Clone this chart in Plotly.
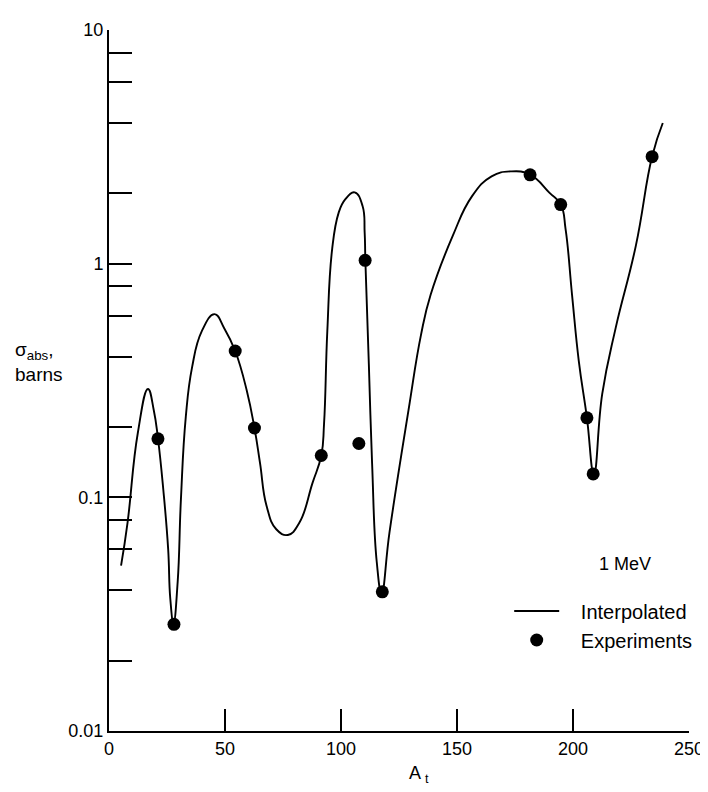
import plotly.graph_objects as go

# Interpolated curve (A_t, sigma_abs in barns)
interp_A = [5.2, 8.0, 12.4, 16.8, 19.3, 21.1, 23.4, 25.5, 26.4, 27.8, 29.6, 31.0, 33.1, 35.8,
            40.0, 45.5, 49.6, 54.4, 59.4, 62.7, 65.1, 67.9, 72.1, 77.1, 82.1, 87.7, 91.5,
            92.7, 94.1, 96.2, 99.0, 101.8, 105.9, 109.3, 110.2, 110.5, 112.0, 113.4, 115.4,
            117.5, 120.9, 129.1, 134.5, 138.6, 148.2, 156.5, 164.9, 173.2, 181.5,
            189.9, 194.7, 196.8, 199.6, 202.5, 206.0, 209.0, 212.6, 218.4, 227.1, 234.1, 238.7]
interp_sigma = [0.051, 0.078, 0.188, 0.291, 0.236, 0.179, 0.108, 0.060, 0.037, 0.029, 0.0435,
                0.098, 0.221, 0.36, 0.514, 0.608, 0.531, 0.423, 0.286, 0.198, 0.140, 0.092,
                0.073, 0.069, 0.078, 0.115, 0.151, 0.207, 0.514, 1.157, 1.654, 1.884, 2.02,
                1.765, 1.36, 1.04, 0.372, 0.140, 0.053, 0.039, 0.0708, 0.236, 0.497,
                0.734, 1.318, 1.945, 2.364, 2.483, 2.404, 2.01, 1.794, 1.406, 0.734, 0.383,
                0.219, 0.126, 0.277, 0.531, 1.195, 2.873, 4.0]

# Experimental points
exp_A = [21.1, 28.0, 54.4, 62.7, 91.5, 107.7, 110.4, 117.8, 181.5, 194.7, 206.0, 208.7, 234.1]
exp_sigma = [0.178, 0.0286, 0.423, 0.198, 0.151, 0.170, 1.033, 0.0394, 2.40, 1.79, 0.219, 0.126, 2.87]

# Axis ticks
x_tickvals = [0, 50, 100, 150, 200, 250]
x_ticktext = ["0", "50", "100", "150", "200", "250"]
y_tickvals = [0.01, 0.02, 0.04, 0.06, 0.08, 0.1, 0.2, 0.4, 0.6, 0.8, 1, 2, 4, 6, 8, 10]
y_ticktext = ["0.01", "", "", "", "", "0.1", "", "", "", "", "1", "", "", "", "", "10"]

FONT = "Liberation Sans, Arial, Helvetica, sans-serif"
NB = "\u00a0"

fig = go.Figure()
fig.add_trace(go.Scatter(
    x=interp_A, y=interp_sigma, mode="lines", name=NB * 3 + "Interpolated",
    line=dict(color="black", width=1.9, shape="spline", smoothing=1.3),
))
fig.add_trace(go.Scatter(
    x=exp_A, y=exp_sigma, mode="markers", name=NB * 3 + "Experiments",
    marker=dict(color="black", size=13, symbol="circle"),
))

fig.update_layout(
    width=708, height=792,
    margin=dict(l=101, r=26, t=14, b=69),
    paper_bgcolor="white", plot_bgcolor="white",
    font=dict(family=FONT, size=18, color="black"),
    showlegend=True,
    legend=dict(x=0.690, y=0.199, xanchor="left", yanchor="top",
                bgcolor="rgba(0,0,0,0)", borderwidth=0,
                font=dict(family=FONT, size=20, color="black"),
                itemwidth=45, tracegroupgap=0),
    xaxis=dict(range=[0, 250], tickmode="array", tickvals=x_tickvals, ticktext=x_ticktext,
               ticks="inside", ticklen=22, tickwidth=1.5, tickcolor="black",
               showline=True, linewidth=2, linecolor="black",
               showgrid=False, zeroline=False,
               tickfont=dict(family=FONT, size=18, color="black")),
    yaxis=dict(type="log", range=[-2, 1], tickmode="array", tickvals=y_tickvals,
               ticktext=y_ticktext,
               ticks="inside", ticklen=23, tickwidth=1.5, tickcolor="black",
               showline=True, linewidth=2, linecolor="black",
               showgrid=False, zeroline=False,
               tickfont=dict(family=FONT, size=18, color="black")),
    annotations=[
        dict(text="σ<sub>abs</sub>,<br>barns", xref="paper", yref="paper",
             x=-0.165, y=0.527, xanchor="left", yanchor="middle", align="left",
             showarrow=False, font=dict(family=FONT, size=19, color="black")),
        dict(text="A <sub>t</sub>", xref="paper", yref="paper",
             x=0.534, y=-0.062, xanchor="center", yanchor="middle",
             showarrow=False, font=dict(family=FONT, size=18, color="black")),
        dict(text="1 MeV", xref="paper", yref="paper",
             x=0.890, y=0.238, xanchor="center", yanchor="middle",
             showarrow=False, font=dict(family=FONT, size=18, color="black")),
    ],
)

fig.write_html("out.html")
